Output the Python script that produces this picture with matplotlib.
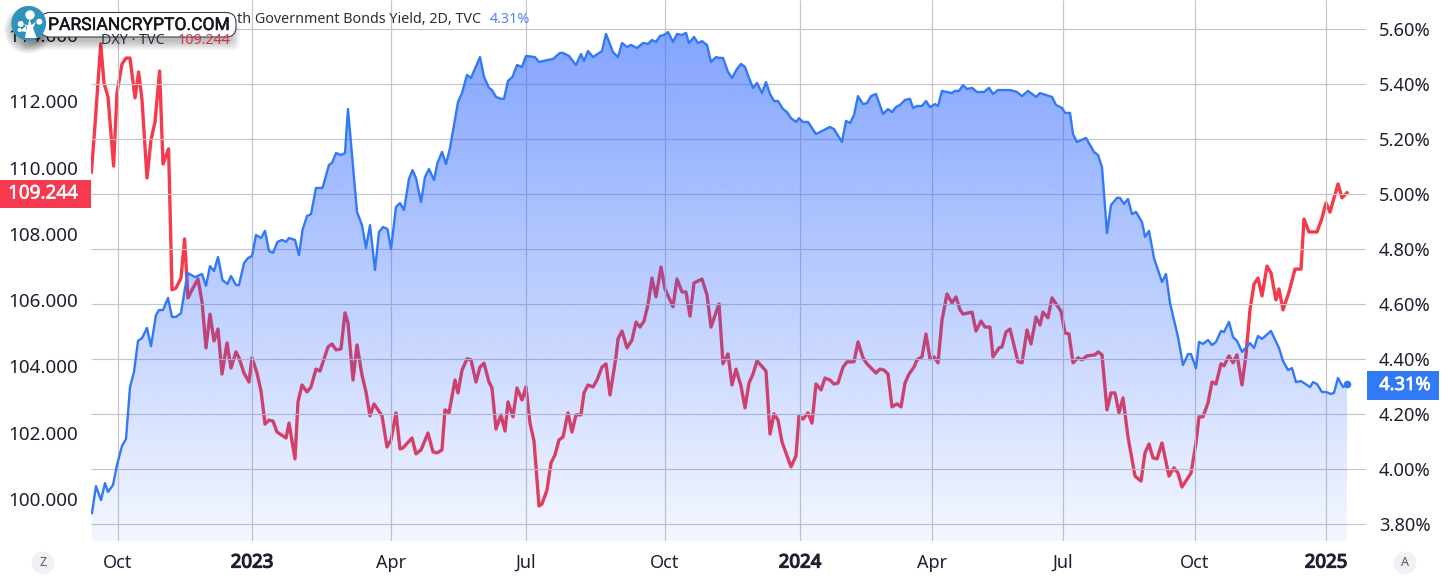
import numpy as np
import matplotlib
matplotlib.use("Agg")
import matplotlib.pyplot as plt
import matplotlib.patheffects as pe
from matplotlib.patches import FancyBboxPatch, Circle, Polygon, Rectangle

plt.rcParams['font.family'] = ['Noto Sans', 'DejaVu Sans']

# Trading-time position of each vertex and value
yield_pos = [92,96,101,105,108,113,117,122,126,130,134,138,142,147,151,156,159,163,168,172,176,181,187.5,195,202,206,210,214,218,222.5,227.5,231,236,239,244,248,252,256,261,265,269,273,277.5,282,286,289,295,299,302.5,307,311,316,322.5,329,332,336,341,345,348,357,362,366,370,375,379,383,387.5,391,396,400,404,409,412.5,416,421,425,429,434,437.5,442,446,450,458,462,467,471,480,484,489,492,496,501,504,508,512.5,517,522,526,535,539,547,553,560,563,569,576,581,584,588,593,602,606,613,618,622,627,631,637,643,648,652,656,660,664,668,673,677,682,686,689,694,698,702,707,711,716,719,723,728,732,737,741,745,749,753,757,762,766,770,774,778,783,787,791,796,799,803,808,816,830,834,842,846,850,854,858,863,867,871,876,883,888,892,896,900,905,910,913,917,922,926,930,935,938,942,952,955,959,963,967,972,977,984,989,993,998,1010,1017,1022,1028,1036,1040,1052,1056,1062,1065,1070,1073,1077,1086,1094,1098,1102,1107,1111,1117,1120,1124,1128,1132,1136,1142,1145,1149,1154,1162,1166,1170,1178,1183,1188,1191,1196,1199,1203,1208,1212,1216,1221,1224,1229,1233,1237,1242,1250,1254,1258,1262,1271,1279,1283,1288,1292,1296,1301,1310,1313,1317,1322,1326,1331,1334,1338,1343,1347]
yield_val = [3.841,3.939,3.888,3.950,3.918,3.943,4.016,4.085,4.110,4.299,4.354,4.467,4.477,4.514,4.448,4.561,4.579,4.579,4.623,4.554,4.554,4.568,4.714,4.699,4.710,4.667,4.739,4.721,4.772,4.688,4.674,4.703,4.670,4.670,4.750,4.768,4.776,4.852,4.841,4.867,4.794,4.787,4.827,4.834,4.827,4.841,4.834,4.779,4.870,4.921,4.928,5.023,5.023,5.107,5.114,5.150,5.143,5.150,5.310,4.936,4.888,4.805,4.888,4.725,4.863,4.881,4.874,4.801,4.954,4.968,4.943,5.056,5.088,5.059,4.972,5.063,5.092,5.052,5.114,5.154,5.110,5.168,5.336,5.368,5.434,5.423,5.499,5.427,5.387,5.379,5.354,5.347,5.347,5.412,5.427,5.470,5.463,5.503,5.499,5.481,5.488,5.492,5.514,5.514,5.503,5.470,5.510,5.485,5.521,5.499,5.521,5.583,5.517,5.499,5.550,5.536,5.543,5.532,5.550,5.547,5.561,5.554,5.576,5.579,5.590,5.554,5.583,5.579,5.587,5.550,5.572,5.550,5.557,5.543,5.481,5.499,5.496,5.496,5.445,5.423,5.456,5.474,5.463,5.423,5.387,5.405,5.368,5.408,5.365,5.339,5.339,5.310,5.299,5.277,5.263,5.277,5.263,5.263,5.219,5.245,5.237,5.190,5.267,5.259,5.288,5.357,5.328,5.332,5.357,5.365,5.292,5.310,5.299,5.317,5.325,5.343,5.347,5.314,5.321,5.321,5.339,5.317,5.328,5.321,5.376,5.368,5.376,5.376,5.397,5.383,5.387,5.372,5.372,5.387,5.365,5.379,5.379,5.372,5.357,5.376,5.354,5.368,5.354,5.325,5.314,5.296,5.296,5.219,5.190,5.205,5.154,5.143,5.099,4.859,4.961,4.987,4.987,4.965,4.983,4.928,4.936,4.899,4.845,4.867,4.768,4.681,4.710,4.605,4.481,4.379,4.419,4.419,4.368,4.463,4.456,4.470,4.452,4.463,4.503,4.499,4.536,4.481,4.467,4.427,4.459,4.441,4.485,4.474,4.503,4.441,4.394,4.361,4.368,4.317,4.321,4.299,4.317,4.310,4.281,4.281,4.274,4.278,4.332,4.299,4.31]

dxy_pos = [91.4,95,100.7,104,108,113.6,117,122,126,130,135,138.6,142,147,151,155,159.6,163,168.6,172,176,181,184.6,188,193,198,202,206,210,214,218,222,227,231,236,239,244,249,252,257,261,265,269,273,277,286,289,295,298,302,307,311,316,320,328,332,336,341,345,348,353,357,362,366,370,374,382,387,391,396,400,403,412,416,421,428,433,437,442,445,449,455,458,462,467,471,476,480,484,489,492,496,501,505,508,513,517,522,526,530,534,539,542,547,551,555,559,563,568,572,576,581,584,588,593,597,602,606,610,616,618,622,627,632,636,640,644,648,652,656,661,665,673,677,682,686,690,694,702,707,711,719,723,728,732,736,741,745,749,753,757,766,770,774,778,782,791,796,799,803,808,812,816,821,825,830,834,838,843,847,854,858,863,867,876,880,884,888,892,897,901,905,909,914,917,922,926,930,934,938,942,947,952,956,960,963,972,976,981,985,990,993,999,1002,1006,1010,1018,1022,1027,1031,1036,1040,1043,1048,1052,1061,1065,1069,1073,1078,1082,1087,1095,1098,1102,1107,1111,1115,1119,1123,1128,1135,1141,1145,1149,1153,1157,1162,1169,1174,1178,1182,1191,1196,1199,1203,1208,1212,1216,1221,1224,1229,1233,1237,1242,1246,1250,1254,1258,1262,1267,1271,1276,1279,1283,1289,1295,1301,1304,1309,1317,1322,1326,1330,1338,1342,1347]
dxy_val = [109.87,111.29,113.74,112.56,112.14,110.05,112.26,113.13,113.31,113.31,112.11,112.89,112.05,109.69,110.84,111.38,112.92,110.11,110.57,106.31,106.37,106.67,107.85,106.07,106.37,106.64,105.95,104.56,105.58,104.77,105.13,103.77,104.71,103.95,104.44,104.26,103.80,103.53,104.26,103.80,103.26,102.26,102.38,102.35,102.02,101.84,102.29,101.21,102.93,103.44,103.23,103.38,103.92,103.86,104.59,104.68,104.50,104.53,105.62,105.31,103.59,104.65,103.74,103.23,102.51,102.87,102.51,101.57,101.78,102.60,101.51,101.54,101.84,101.36,101.48,101.99,101.42,101.39,101.48,102.69,102.60,103.59,103.20,103.89,104.23,104.20,103.53,103.98,104.10,103.53,103.35,102.11,102.54,102.05,102.93,102.48,103.35,102.99,103.38,102.29,101.75,99.79,99.85,100.27,101.09,101.33,101.78,101.87,102.60,102.02,102.54,102.54,103.20,103.44,103.38,103.59,103.98,104.08,103.14,104.29,104.83,105.07,104.56,104.80,105.34,105.19,105.37,105.86,106.67,106.10,107.00,106.34,105.80,106.64,106.25,106.25,105.52,106.52,106.64,106.16,105.19,105.89,104.08,104.38,103.44,103.92,103.41,102.75,103.50,103.77,104.17,103.86,101.96,102.57,102.38,101.72,100.97,101.30,102.51,102.41,102.60,102.29,103.47,103.29,103.65,103.59,103.47,103.50,103.98,104.14,104.14,104.74,104.26,104.08,103.80,103.92,103.89,103.77,102.78,102.87,102.78,103.50,103.77,103.98,104.20,104.29,104.98,104.23,104.29,104.11,105.40,106.19,105.92,106.10,105.71,105.58,105.64,105.07,105.37,105.19,105.19,104.29,104.56,104.59,105.04,105.13,104.14,104.11,105.10,104.68,105.49,105.25,105.64,105.47,106.07,105.67,105.01,104.98,104.11,104.26,104.20,104.32,104.35,104.44,104.35,102.69,103.20,103.20,102.60,103.05,101.87,100.69,100.54,101.39,101.66,101.24,101.21,101.69,100.69,100.94,100.78,100.36,100.78,101.69,102.48,102.48,102.90,103.53,103.47,104.08,104.02,104.32,104.11,104.35,103.44,104.35,105.71,106.49,106.67,106.13,107.03,106.82,106.01,106.34,105.71,106.25,106.94,106.94,108.45,108.06,108.06,108.48,108.94,108.66,109.51,109.09,109.244]

time_ticks = [118, 252, 391, 526, 665, 800, 932, 1063, 1195, 1326]
time_labels = ['Oct', '2023', 'Apr', 'Jul', 'Oct', '2024', 'Apr', 'Jul', 'Oct', '2025']
year_labels = ('2023', '2024', '2025')
yield_ticks = [3.8, 4.0, 4.2, 4.4, 4.6, 4.8, 5.0, 5.2, 5.4, 5.6]
dxy_ticks = [100, 102, 104, 106, 108, 110, 112, 114]
dxy_last = 109.244
yield_last = 4.31

W, H = 1441, 582
TEXT = '#1c2030'
RED = '#f53a4b'
BLUE = '#3179f5'
fig = plt.figure(figsize=(W/100, H/100), dpi=100, facecolor='white')
L, R, B, T = 91, 1366, 541, 0
rect = [L/W, 1-B/H, (R-L)/W, (B-T)/H]


def embolden(t, color, w=0.55):
    t.set_path_effects([pe.withStroke(linewidth=w, foreground=color)])


# DXY underneath, yield with its semi-transparent fill above
ax2 = fig.add_axes(rect, zorder=1, facecolor='white')
ax = fig.add_axes(rect, zorder=2, facecolor='none')
for a in (ax, ax2):
    a.set_xlim(L, R)
    for s in a.spines.values():
        s.set_visible(False)
ax.set_ylim(3.7393, 5.7065)
ax2.set_ylim(98.73, 115.064)

ax2.plot(dxy_pos, dxy_val, color=RED, lw=2.4, solid_joinstyle='round', zorder=3)
ax2.set_yticks(dxy_ticks)
ax2.set_yticklabels([f'{v:.3f}' for v in dxy_ticks], fontsize=13.6, color=TEXT)
ax2.tick_params(axis='y', length=0, pad=9.4)
ax2.set_xticks([])

ax.vlines(time_ticks, 3.7393, 5.7065, color='#c6c6ca', lw=0.85, zorder=1)
ax.hlines(yield_ticks, L, R, color='#c6c6ca', lw=0.85, zorder=1)

# gradient under the yield line
n = 256
grad = np.zeros((n, 1, 4))
grad[..., 0] = 41/255
grad[..., 1] = 98/255
grad[..., 2] = 1.0
grad[:, 0, 3] = np.linspace(0.58, 0.05, n)
top = max(yield_val)
im = ax.imshow(grad, extent=[L, R, 3.7393, top], origin='upper', aspect='auto', zorder=2)
ax.set_xlim(L, R)
ax.set_ylim(3.7393, 5.7065)
poly = Polygon(list(zip(yield_pos, yield_val)) + [(yield_pos[-1], 3.7393), (yield_pos[0], 3.7393)],
               closed=True, transform=ax.transData, fc='none', ec='none')
ax.add_patch(poly)
im.set_clip_path(poly)

ax.plot(yield_pos, yield_val, color=BLUE, lw=1.7, solid_joinstyle='round', zorder=3)
ax.plot(yield_pos[-1], yield_last, 'o', color=BLUE, ms=5.5, mew=0, zorder=4)

ax.yaxis.tick_right()
ax.set_yticks(yield_ticks)
ax.set_yticklabels([f'{v:.2f}%' for v in yield_ticks], fontsize=13.2, color=TEXT)
ax.tick_params(axis='y', length=0, pad=9.4)
ax.set_xticks(time_ticks)
ax.set_xticklabels(time_labels, fontsize=13, color=TEXT)
for t in ax.get_xticklabels():
    if t.get_text() in year_labels:
        t.set_fontsize(13.4)
        embolden(t, TEXT, 0.9)
ax.tick_params(axis='x', length=0, pad=9)

# overlay in image units for tags, legend, watermark
ov = fig.add_axes([0, 0, 1, 1], zorder=5, facecolor='none')
ov.set_xlim(0, W)
ov.set_ylim(H, 0)
ov.axis('off')

ov.add_patch(Rectangle((0, 180), 91, 28, fc='#f5394e', ec='none'))
embolden(ov.text(43, 193.5, f'{dxy_last:.3f}', color='white', fontsize=13.6, ha='center', va='center'), 'white', 0.4)
ov.add_patch(Rectangle((1367, 371), 72, 29, fc=BLUE, ec='none'))
embolden(ov.text(1405, 385, f'{yield_last:.2f}%', color='white', fontsize=13.2, ha='center', va='center'), 'white', 0.5)

ov.text(237, 19.5, 'th Government Bonds Yield, 2D, TVC', color='#2a2e39', fontsize=10.3, va='center')
ov.text(490, 19.5, f'{yield_last:.2f}%', color='#4f86f7', fontsize=10.3, va='center')
ov.text(101, 41, 'DXY · TVC', color='#2a2e39', fontsize=10.3, va='center')
ov.text(178, 41, f'{dxy_last:.3f}', color='#d9334a', fontsize=10.3, va='center')

for cx, s in ((43, 'Z'), (1405, 'A')):
    ov.add_patch(Circle((cx, 563), 11.5, fc='#f0f1f4', ec='none'))
    ov.text(cx, 563, s, color='#555a66', fontsize=9, ha='center', va='center')

# watermark
for i in range(10):
    g = 10 - i
    ov.add_patch(FancyBboxPatch((30-g, 32-g), 200+2*g, 8+2*g, boxstyle='round,pad=0,rounding_size=8',
                                fc='black', ec='none', alpha=0.028))
    ov.add_patch(Circle((28, 30), 14+g, fc='black', ec='none', alpha=0.03))
ov.add_patch(FancyBboxPatch((40, 12.5), 196, 24.5, boxstyle='round,pad=0,rounding_size=10',
                            fc='white', ec='#3a3f4a', lw=0.8))
embolden(ov.text(48, 25.5, 'PARSIANCRYPTO.COM', color='#14161c', fontsize=12.6,
                 family='Roboto', va='center', ha='left'), '#14161c', 0.35)
ov.add_patch(Circle((28.7, 23.3), 17.4, fc='#2f93bb', ec='none'))
tree = [(25, 38), (27, 27), (24, 24), (28, 25.5), (29.5, 19), (31.5, 25), (36, 22), (33, 28), (36.7, 38)]
ov.add_patch(Polygon(tree, closed=True, fc='white', ec='none'))
ov.add_patch(Polygon([(20, 31), (26, 26), (26.5, 32)], closed=True, fc='white', ec='none'))
ov.add_patch(Circle((30, 15), 4.7, fc='white', ec='none'))
ov.add_patch(Circle((20.7, 24), 3, fc='white', ec='none'))
ov.add_patch(Circle((39.3, 21.7), 3, fc='white', ec='none'))
ov.add_patch(Circle((19.5, 30), 2, fc='white', ec='none'))

fig.savefig('out.png', dpi=100, facecolor='white')
